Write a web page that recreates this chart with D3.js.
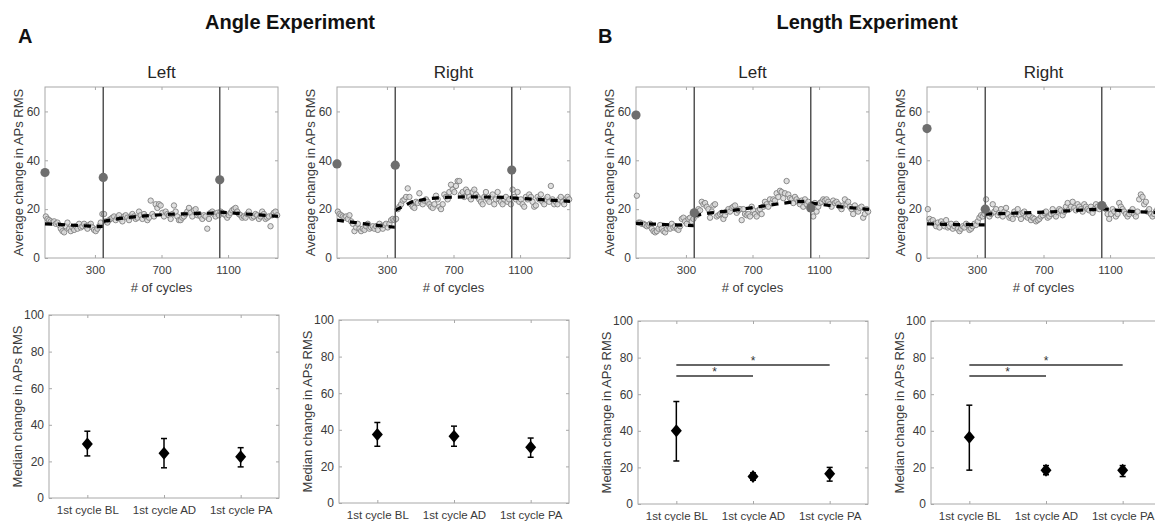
<!DOCTYPE html>
<html>
<head>
<meta charset="utf-8">
<script src="https://cdnjs.cloudflare.com/ajax/libs/d3/7.8.5/d3.min.js"></script>
<style>
  body { margin: 0; background: #fff; }
  svg { display: block; font-family: "Liberation Sans", Arial, sans-serif; }
</style>
</head>
<body>
<svg id="fig" width="1155" height="521"></svg>
<script>
// ---- data ----
var phaseStarts = [0, 350, 1050];
var phaseEnds = [350, 1050, 1400];
var fitKnots = [
  [0, 100, 200, 300, 350],
  [350, 450, 550, 650, 750, 850, 950, 1050],
  [1050, 1150, 1250, 1350, 1400]
];
var cycleTicks = [300, 700, 1100];
var avgTicks = [0, 20, 40, 60];
var medTicks = [0, 20, 40, 60, 80, 100];
var phaseLabels = ["1st cycle BL", "1st cycle AD", "1st cycle PA"];

// Angle experiment, left
var angleLeftBase = [17, 16, 15.5, 15, 14.5, 15, 14, 14.5, 13.5, 12, 11, 10.5, 13, 14.5, 12, 11, 12.5, 11.5, 13, 12, 14, 12.5, 13, 14, 13, 12, 13.5, 14, 12.5, 11.5, 11, 12, 13, 14.5, 18];
var angleLeftAdapt = [18, 15, 14.5, 15.5, 16, 16.5, 17, 15.5, 16.5, 17.5, 16, 15, 17, 17.5, 16.5, 15.5, 17, 18, 17, 16, 16.5, 19, 17.5, 16, 18, 17, 15.5, 16.5, 23.5, 18, 17, 22, 20.5, 22, 21.5, 18.5, 17, 19, 18, 17.5, 16, 18, 21.5, 19, 17, 15.5, 15.5, 16.5, 17, 18, 19, 20.5, 18.5, 17, 19.5, 20, 17.5, 18, 17, 16, 17.5, 17, 12, 16, 18.5, 19, 18, 17, 18.5, 17.5];
var angleLeftPost = [19, 18.5, 18, 17.5, 16.5, 17.5, 18.5, 19.5, 20, 20.5, 19, 18, 17.5, 16.5, 17, 16.5, 18, 19, 17.5, 16.5, 17, 18, 17.5, 16, 17, 19, 18, 16, 16.5, 17, 13, 17.5, 18.5, 19, 17.5];
var angleLeftFit = [[14, 13.7, 13.3, 13, 12.9], [15, 16.2, 17, 17.5, 17.9, 18.1, 18.3, 18.4], [18.8, 18.3, 17.8, 17.3, 17.1]];
var angleLeftFirst = [35, 33, 32];

// Angle experiment, right
var angleRightBase = [19, 18, 17.5, 17, 16.5, 17, 16, 17.5, 15, 14, 11, 12.5, 14, 12, 11, 12, 11.5, 13, 14, 12, 12.5, 13, 12, 13, 11.5, 14, 13, 12, 13.5, 14, 12.5, 14, 15.5, 16, 15.5];
var angleRightAdapt = [16, 20, 21, 22, 23.5, 24, 25, 28.5, 25, 22, 21, 20.5, 23, 22.5, 26.5, 23, 22, 23.5, 24, 23, 22, 21, 20.5, 22, 25.5, 24, 21, 20, 22, 26, 25, 24, 27, 30, 28, 27, 29.5, 31.5, 31.5, 26, 27, 25, 28, 27, 25, 24, 27, 28, 26, 25, 24, 23, 22, 25, 27, 24, 23, 25, 26, 22, 24, 27, 24, 23, 22, 24, 25, 23, 24, 22];
var angleRightPost = [28, 25, 24, 27, 23, 24, 22, 21, 25, 24, 26, 25, 23, 21, 21.5, 25, 24, 26, 23, 22, 24, 25, 23, 29.5, 24, 22, 23, 22, 24, 25, 23, 22, 24, 25, 24];
var angleRightFit = [[15.5, 14.6, 13.7, 12.9, 12.6], [19.5, 23, 24.3, 24.8, 25, 25, 24.9, 24.8], [24.6, 24.2, 23.8, 23.4, 23.2]];
var angleRightFirst = [38.5, 38, 36];

// Length experiment, left
var lengthLeftBase = [25.5, 14.5, 14.5, 14, 14, 13.5, 13, 13.5, 14, 12, 11, 10.5, 11, 12, 13.5, 12, 11, 10.5, 12, 13, 12, 14, 12.5, 13, 12, 11.5, 13, 16, 16.5, 15, 14, 16, 16.5, 15, 16];
var lengthLeftAdapt = [18, 17.5, 20, 19.5, 23, 22, 22.5, 21, 20, 16.5, 19, 21.5, 22, 17, 17.5, 18, 18.5, 16, 17.5, 19, 20, 19, 20.5, 21, 21.5, 18.5, 19.5, 20, 15.5, 20, 18, 17.5, 18, 17, 21, 19.5, 18, 17, 19.5, 20, 18, 21, 23, 22, 21, 24, 22.5, 24, 23.5, 26.5, 25, 27.5, 27, 24.5, 26.5, 31.5, 26, 24.5, 24, 22.5, 25, 24, 23, 22, 23.5, 21, 24, 22, 23, 21.5];
var lengthLeftPost = [22, 17, 22.5, 19, 21, 22.5, 23, 24, 23.5, 24, 23, 22, 21, 23.5, 22.5, 23, 22, 21, 20, 21.5, 24, 22, 23, 21, 20, 18, 21.5, 20, 19, 20.5, 21, 16.5, 18, 20, 19];
var lengthLeftFit = [[14.2, 13.9, 13.6, 13.4, 13.2], [17.3, 18.5, 19.2, 20.1, 21.1, 22.1, 23, 23.3], [22.5, 21.6, 20.8, 20.2, 19.9]];
var lengthLeftFirst = [58.5, 18.5, 20.5];

// Length experiment, right
var lengthRightBase = [20, 16, 15, 15.5, 14, 13, 14.5, 12.5, 15, 14, 13, 15.5, 12.5, 13, 14, 12, 13, 14, 12, 11, 12, 13, 12.5, 14, 13.5, 11.5, 12, 13, 14, 13.5, 15, 16.5, 17.5, 17, 18];
var lengthRightAdapt = [24, 19, 17, 18, 22, 19, 20, 17.5, 18.5, 20, 17, 19, 20.5, 18, 16.5, 17, 16, 19, 18, 20, 17.5, 16, 18.5, 19, 17, 16.5, 17.5, 15.5, 16.5, 16, 15, 15.5, 16, 17, 17.5, 18.5, 19, 16.5, 17, 18, 20, 18, 17, 19, 20, 19.5, 17.5, 19, 21, 22.5, 20, 21, 23, 20.5, 19.5, 22, 21, 20, 19, 22, 21, 20, 19.5, 21, 18.5, 20, 22, 21, 20, 21];
var lengthRightPost = [22, 21, 20, 18, 16, 18, 20, 19, 17, 18, 22.5, 21, 20, 19, 18, 17, 18, 19, 20, 18, 17, 19, 24, 26, 25, 22, 23, 19, 20, 18, 17, 18, 19, 20, 17];
var lengthRightFit = [[14, 13.8, 13.7, 13.6, 13.6], [18, 18.2, 18.4, 18.6, 18.9, 19.3, 19.7, 20], [20.2, 19.5, 19, 18.7, 18.6]];
var lengthRightFirst = [53, 20, 21.5];

// medians with error bar ends (bottom row)
var angleLeftMed = [29.5, 24.5, 22.5], angleLeftLo = [23, 16.5, 17], angleLeftHi = [36.5, 32.5, 27.5];
var angleRightMed = [37.5, 36.5, 30.5], angleRightLo = [31, 31, 25], angleRightHi = [44, 42, 35.5];
var lengthLeftMed = [40, 15, 16.5], lengthLeftLo = [23.5, 13, 12.5], lengthLeftHi = [56, 17, 20];
var lengthRightMed = [36.5, 18.5, 18.5], lengthRightLo = [18.5, 16, 15], lengthRightHi = [54, 21, 21];
var sigPairs = [[0, 1], [0, 2]];
var sigLevels = [70, 76];

// ---- layout ----
var svg = d3.select("#fig");
var boxColor = "#a8a8a8", textColor = "#3a3a3a";
var topLefts = [45, 337, 636, 927], topY = 87, topW = 233, topH = 171;
var botLefts = [49, 339, 638, 931], botTops = [315, 320, 321, 321], botW = 230, botH = 183;

var topPanels = [
  {phases: [angleLeftBase, angleLeftAdapt, angleLeftPost], fit: angleLeftFit, first: angleLeftFirst, title: "Left"},
  {phases: [angleRightBase, angleRightAdapt, angleRightPost], fit: angleRightFit, first: angleRightFirst, title: "Right"},
  {phases: [lengthLeftBase, lengthLeftAdapt, lengthLeftPost], fit: lengthLeftFit, first: lengthLeftFirst, title: "Left"},
  {phases: [lengthRightBase, lengthRightAdapt, lengthRightPost], fit: lengthRightFit, first: lengthRightFirst, title: "Right"}
];
var botPanels = [
  {med: angleLeftMed, lo: angleLeftLo, hi: angleLeftHi, sig: false},
  {med: angleRightMed, lo: angleRightLo, hi: angleRightHi, sig: false},
  {med: lengthLeftMed, lo: lengthLeftLo, hi: lengthLeftHi, sig: true},
  {med: lengthRightMed, lo: lengthRightLo, hi: lengthRightHi, sig: true}
];

function styleAxis(g, fs) {
  g.attr("font-family", null).attr("font-size", null);
  g.select(".domain").remove();
  g.selectAll(".tick line").attr("stroke", boxColor);
  g.selectAll(".tick text").attr("fill", textColor).style("font-size", fs + "px");
}

function frame(g, x, y, xt, yt, L, T, w, h, xPad, xFmt) {
  g.append("rect").attr("x", L).attr("y", T).attr("width", w).attr("height", h)
    .attr("fill", "none").attr("stroke", boxColor).attr("stroke-width", 1);
  var bx = d3.axisBottom(x).tickValues(xt).tickSize(-3).tickPadding(xPad);
  if (xFmt) bx.tickFormat(xFmt);
  g.append("g").attr("transform", "translate(0," + (T + h) + ")")
    .call(bx).call(styleAxis, 11.5);
  g.append("g").attr("transform", "translate(0," + T + ")")
    .call(d3.axisTop(x).tickValues(xt).tickSize(-3).tickFormat(""))
    .call(styleAxis, 11.5);
  g.append("g").attr("transform", "translate(" + L + ",0)")
    .call(d3.axisLeft(y).tickValues(yt).tickSize(-3).tickPadding(5))
    .call(styleAxis, 12);
  g.append("g").attr("transform", "translate(" + (L + w) + ",0)")
    .call(d3.axisRight(y).tickValues(yt).tickSize(-3).tickFormat(""))
    .call(styleAxis, 12);
}

// top row: per-cycle averages
topPanels.forEach(function(p, i) {
  var L = topLefts[i];
  var x = d3.scaleLinear().domain([0, 1400]).range([L, L + topW]);
  var y = d3.scaleLinear().domain([0, 70]).range([topY + topH, topY]);
  var g = svg.append("g");
  frame(g, x, y, cycleTicks, avgTicks, L, topY, topW, topH, 8, d3.format("d"));

  var pts = [];
  p.phases.forEach(function(vals, j) {
    var step = (phaseEnds[j] - phaseStarts[j]) / vals.length;
    vals.forEach(function(v, k) { pts.push([phaseStarts[j] + (k + 0.5) * step, v]); });
  });
  g.selectAll(".pt").data(pts).enter().append("circle")
    .attr("cx", function(d) { return x(d[0]); })
    .attr("cy", function(d) { return y(d[1]); })
    .attr("r", 2.7)
    .attr("fill", "#d8d8d8").attr("fill-opacity", 0.8)
    .attr("stroke", "#808080").attr("stroke-width", 0.9);

  var line = d3.line().x(function(d) { return x(d[0]); }).y(function(d) { return y(d[1]); });
  p.fit.forEach(function(f, j) {
    g.append("path").attr("d", line(d3.zip(fitKnots[j], f)))
      .attr("fill", "none").attr("stroke", "#000").attr("stroke-width", 3.2)
      .attr("stroke-dasharray", "7,6");
  });

  [350, 1050].forEach(function(c) {
    g.append("line").attr("x1", x(c)).attr("x2", x(c)).attr("y1", topY).attr("y2", topY + topH)
      .attr("stroke", "#555").attr("stroke-width", 1.5);
  });

  g.selectAll(".big").data(p.first).enter().append("circle")
    .attr("cx", function(d, j) { return x(phaseStarts[j]); })
    .attr("cy", function(d) { return y(d); })
    .attr("r", 4.6).attr("fill", "#6e6e6e");

  g.append("text").attr("x", L + topW / 2).attr("y", 78).attr("text-anchor", "middle")
    .attr("fill", "#262626").style("font-size", "17px").text(p.title);
  g.append("text").attr("transform", "translate(" + (L - 22) + "," + (topY + topH / 2) + ") rotate(-90)")
    .attr("text-anchor", "middle").attr("fill", textColor).style("font-size", "13px")
    .text("Average change in APs RMS");
  g.append("text").attr("x", L + topW / 2).attr("y", topY + topH + 34).attr("text-anchor", "middle")
    .attr("fill", textColor).style("font-size", "13px").text("# of cycles");
});

// bottom row: first-cycle medians
botPanels.forEach(function(p, i) {
  var L = botLefts[i], T = botTops[i];
  var x = d3.scalePoint().domain(phaseLabels).range([L, L + botW]).padding(0.5);
  var y = d3.scaleLinear().domain([0, 100]).range([T + botH, T]);
  var g = svg.append("g");
  frame(g, x, y, phaseLabels, medTicks, L, T, botW, botH, 8, null);

  phaseLabels.forEach(function(lab, j) {
    var cx = x(lab);
    g.append("line").attr("x1", cx).attr("x2", cx).attr("y1", y(p.lo[j])).attr("y2", y(p.hi[j]))
      .attr("stroke", "#000").attr("stroke-width", 1.5);
    [p.lo[j], p.hi[j]].forEach(function(v) {
      g.append("line").attr("x1", cx - 3).attr("x2", cx + 3).attr("y1", y(v)).attr("y2", y(v))
        .attr("stroke", "#000").attr("stroke-width", 1.5);
    });
    g.append("path").attr("d", "M0,-6.5L5.5,0L0,6.5L-5.5,0Z")
      .attr("transform", "translate(" + cx + "," + y(p.med[j]) + ")").attr("fill", "#000");
  });

  if (p.sig) {
    sigPairs.forEach(function(pr, k) {
      var x1 = x(phaseLabels[pr[0]]), x2 = x(phaseLabels[pr[1]]);
      g.append("line").attr("x1", x1).attr("x2", x2).attr("y1", y(sigLevels[k])).attr("y2", y(sigLevels[k]))
        .attr("stroke", "#333").attr("stroke-width", 1.5);
      g.append("text").attr("x", (x1 + x2) / 2).attr("y", y(sigLevels[k]) + 0.5)
        .attr("text-anchor", "middle").attr("fill", "#333").style("font-size", "12px").text("*");
    });
  }

  g.append("text").attr("transform", "translate(" + (L - 27) + "," + (T + botH / 2) + ") rotate(-90)")
    .attr("text-anchor", "middle").attr("fill", textColor).style("font-size", "13px")
    .text("Median change in APs RMS");
});

// headers
svg.append("text").attr("x", 290).attr("y", 29).attr("text-anchor", "middle")
  .style("font-size", "20px").style("font-weight", "bold").attr("fill", "#111").text("Angle Experiment");
svg.append("text").attr("x", 867).attr("y", 29).attr("text-anchor", "middle")
  .style("font-size", "20px").style("font-weight", "bold").attr("fill", "#111").text("Length Experiment");
svg.append("text").attr("x", 18).attr("y", 43)
  .style("font-size", "20px").style("font-weight", "bold").attr("fill", "#111").text("A");
svg.append("text").attr("x", 598).attr("y", 43)
  .style("font-size", "20px").style("font-weight", "bold").attr("fill", "#111").text("B");
</script>
</body>
</html>
